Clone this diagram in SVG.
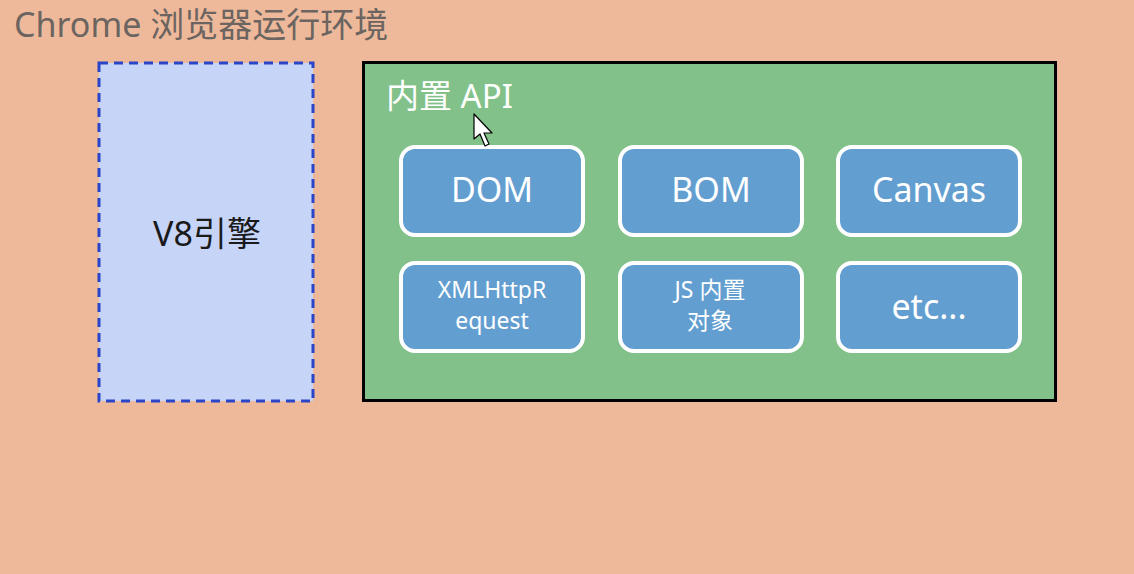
<svg xmlns="http://www.w3.org/2000/svg" width="1134" height="574" viewBox="0 0 1134 574">
<style>
text{font-family:"Noto Sans","Noto Sans CJK SC",sans-serif}
.item{fill:#639ED0;stroke:#FFFFFF;stroke-width:4}
.lbl{fill:#FFFFFF;text-anchor:middle}
.big{font-size:34px}
.small{font-size:23px}
</style>
<rect width="1134" height="574" fill="#EEB99A"/>
<text x="14" y="37" font-size="34" fill="#6B6460">Chrome 浏览器运行环境</text>
<g id="v8">
<rect x="99" y="63" width="214" height="338" fill="#C6D4F8" stroke="#2A45C7" stroke-width="3" stroke-dasharray="9,6"/>
<text x="207" y="246" font-size="34" fill="#1A1A1A" text-anchor="middle">V8引擎</text>
</g>
<g id="builtin-api">
<rect x="363.5" y="62.5" width="692" height="338" fill="#82C18A" stroke="#000000" stroke-width="3"/>
<text x="386" y="108" font-size="33" fill="#FFFFFF">内置 API</text>
</g>
<g id="dom"><rect class="item" x="401" y="147" width="182" height="88" rx="14"/><text class="lbl big" x="492" y="202">DOM</text></g>
<g id="bom"><rect class="item" x="620" y="147" width="182" height="88" rx="14"/><text class="lbl big" x="711" y="202">BOM</text></g>
<g id="canvas"><rect class="item" x="838" y="147" width="182" height="88" rx="14"/><text class="lbl big" x="929" y="202">Canvas</text></g>
<g id="xhr"><rect class="item" x="401" y="263" width="182" height="88" rx="14"/><text class="lbl small" x="492" y="298">XMLHttpR</text><text class="lbl small" x="492" y="329">equest</text></g>
<g id="js"><rect class="item" x="620" y="263" width="182" height="88" rx="14"/><text class="lbl small" x="710" y="298">JS 内置</text><text class="lbl small" x="710" y="329">对象</text></g>
<g id="etc"><rect class="item" x="838" y="263" width="182" height="88" rx="14"/><text class="lbl big" x="929" y="319">etc...</text></g>
<g id="connectors"></g>
<path d="M474 114 L474 139 L480 134 L485 146 L489 144 L484 133 L492 133 Z" fill="#FFFFFF" stroke="#000000" stroke-width="1.2" stroke-linejoin="round"/>
</svg>
